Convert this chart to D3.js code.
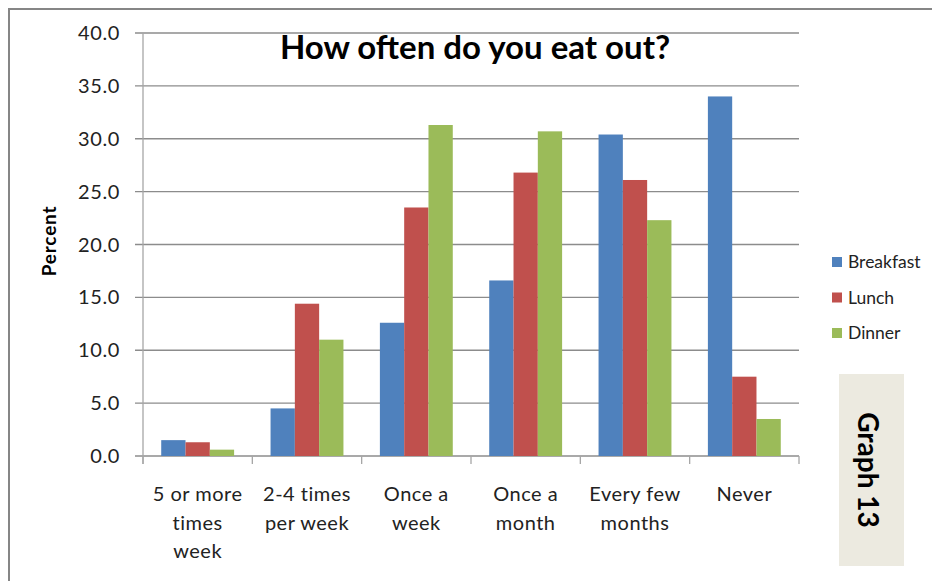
<!DOCTYPE html>
<html>
<head>
<meta charset="utf-8">
<script src="https://cdn.jsdelivr.net/npm/d3@7"></script>
<style>
  body { margin: 0; background: #fff; }
  text { font-family: Lato, "Open Sans", sans-serif; }
</style>
</head>
<body>
<div id="chart"></div>
<script>
// data
const categories = [
    ["5 or more", "times", "week"],
    ["2-4 times", "per week"],
    ["Once a", "week"],
    ["Once a", "month"],
    ["Every few", "months"],
    ["Never"]
];
const seriesNames = ["Breakfast", "Lunch", "Dinner"];
const breakfast = [1.5, 4.5, 12.6, 16.6, 30.4, 34.0];
const lunch = [1.3, 14.4, 23.5, 26.8, 26.1, 7.5];
const dinner = [0.6, 11.0, 31.3, 30.7, 22.3, 3.5];
const yTicks = [0, 5, 10, 15, 20, 25, 30, 35, 40];
const colors = ["#4F81BD", "#C0504D", "#9BBB59"];

const fullWidth = 932, fullHeight = 581;
const margin = { top: 33, right: 133, bottom: 125, left: 143 };
const width = fullWidth - margin.left - margin.right,
    height = fullHeight - margin.top - margin.bottom;

const svg = d3.select("#chart").append("svg")
    .attr("width", fullWidth).attr("height", fullHeight);

// outer frame
svg.append("rect")
    .attr("x", 9).attr("y", 9)
    .attr("width", fullWidth).attr("height", fullHeight)
    .attr("fill", "none").attr("stroke", "#868686").attr("stroke-width", 2);

const g = svg.append("g").attr("transform", "translate(" + margin.left + "," + margin.top + ")");

const x0 = d3.scaleBand().domain(d3.range(categories.length)).range([0, width]).paddingInner(0).paddingOuter(0);
// 150% gap width: bars take 3 / 4.5 of each band
const x1 = d3.scaleBand().domain(seriesNames).range([0, x0.bandwidth()]).paddingOuter(0.75).paddingInner(0);
const y = d3.scaleLinear().domain([0, 40]).range([height, 0]);

// gridlines
g.append("g").selectAll("line").data(yTicks).enter().append("line")
    .attr("x1", -8).attr("x2", width)
    .attr("y1", d => y(d)).attr("y2", d => y(d))
    .attr("stroke", "#8c8c8c").attr("stroke-width", 1.3);

// y axis line
g.append("line").attr("x1", 0).attr("x2", 0).attr("y1", 0).attr("y2", height + 8)
    .attr("stroke", "#a6a6a6").attr("stroke-width", 1.3);

// y tick labels
g.append("g").selectAll("text").data(yTicks).enter().append("text")
    .attr("x", -23).attr("y", d => y(d)).attr("dy", "0.35em")
    .attr("text-anchor", "end").attr("font-size", 20).attr("letter-spacing", 0.6).attr("fill", "#222")
    .text(d => d3.format(".1f")(d));

// x axis ticks
g.append("g").selectAll("line").data(d3.range(categories.length + 1)).enter().append("line")
    .attr("x1", d => d * x0.bandwidth()).attr("x2", d => d * x0.bandwidth())
    .attr("y1", height).attr("y2", height + 8)
    .attr("stroke", "#a6a6a6").attr("stroke-width", 1.3);

// bars
const allSeries = [breakfast, lunch, dinner];
const groups = g.append("g").selectAll("g").data(categories).enter().append("g")
    .attr("transform", (d, i) => "translate(" + x0(i) + ",0)");

groups.selectAll("rect")
    .data((d, i) => seriesNames.map((s, k) => ({ s: s, k: k, v: allSeries[k][i] })))
    .enter().append("rect")
    .attr("x", d => x1(d.s))
    .attr("width", x1.bandwidth())
    .attr("y", d => y(d.v))
    .attr("height", d => height - y(d.v))
    .attr("fill", d => colors[d.k]);

// category labels
const catLabels = g.append("g").selectAll("text").data(categories).enter().append("text")
    .attr("x", (d, i) => x0(i) + x0.bandwidth() / 2)
    .attr("y", height + 45)
    .attr("text-anchor", "middle").attr("font-size", 20).attr("letter-spacing", 0.5).attr("fill", "#222");
catLabels.selectAll("tspan").data(d => d).enter().append("tspan")
    .attr("x", function () { return this.parentNode.getAttribute("x"); })
    .attr("dy", (d, i) => i === 0 ? 0 : 28.5)
    .text(d => d);

// title
svg.append("text")
    .attr("x", 475).attr("y", 59)
    .attr("text-anchor", "middle").attr("font-size", 33).attr("font-weight", "bold")
    .attr("fill", "#000")
    .text("How often do you eat out?");

// y label
svg.append("text")
    .attr("transform", "translate(56,241) rotate(-90)")
    .attr("text-anchor", "middle").attr("font-size", 19).attr("font-weight", "bold")
    .attr("letter-spacing", 0.8)
    .text("Percent");

// legend
const legend = svg.append("g").selectAll("g").data(seriesNames).enter().append("g")
    .attr("transform", (d, i) => "translate(832," + (262 + i * 35.5) + ")");
legend.append("rect").attr("x", 0).attr("y", -5).attr("width", 10).attr("height", 10)
    .attr("fill", (d, i) => colors[i]);
legend.append("text").attr("x", 16).attr("y", 0).attr("dy", "0.35em")
    .attr("font-size", 17.5).attr("fill", "#222").text(d => d);

// "Graph 13" tag
svg.append("rect")
    .attr("x", 839).attr("y", 374).attr("width", 65).attr("height", 192)
    .attr("fill", "#ECEAE0");
svg.append("text")
    .attr("transform", "translate(858,470) rotate(90)")
    .attr("text-anchor", "middle").attr("font-size", 28).attr("font-weight", "bold")
    .attr("fill", "#000")
    .text("Graph 13");
</script>
</body>
</html>
